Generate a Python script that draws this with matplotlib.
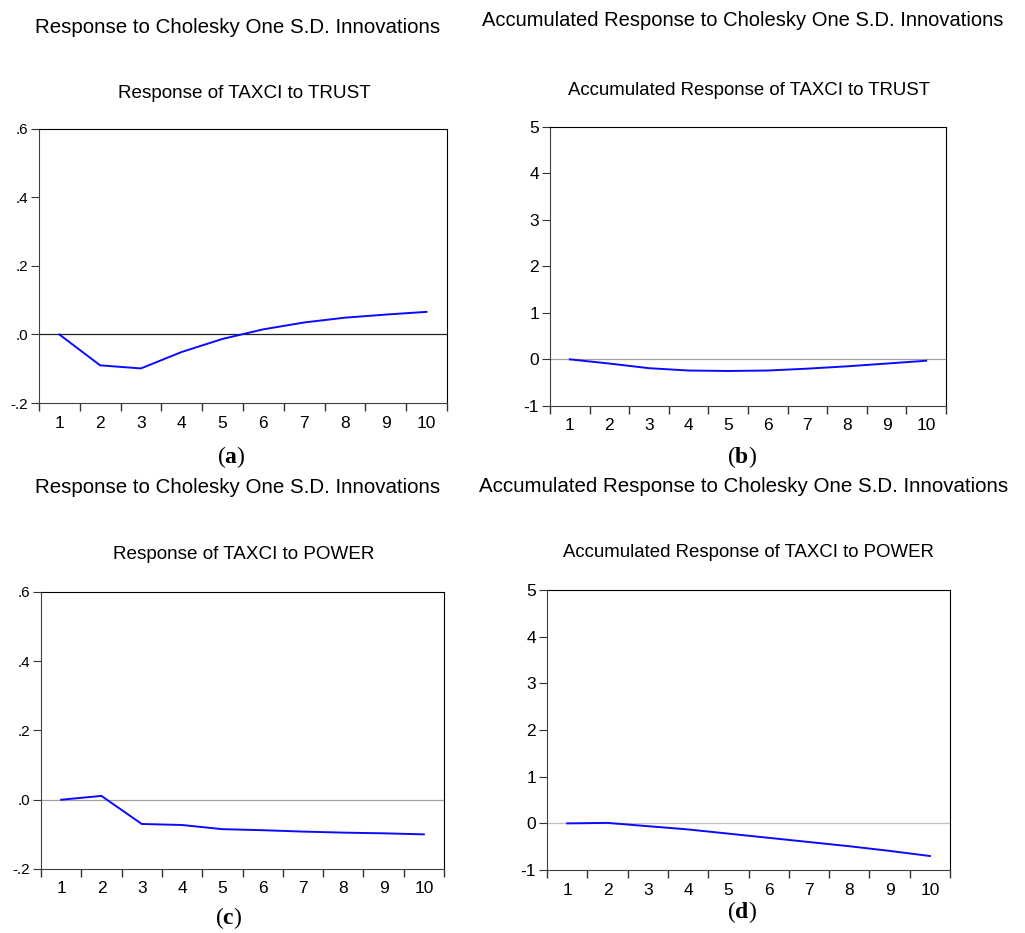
import matplotlib
matplotlib.use('Agg')
import matplotlib.pyplot as plt
from matplotlib.ticker import FixedLocator, NullFormatter, FixedFormatter

plt.rcParams['font.family'] = ['Liberation Sans', 'DejaVu Sans']
plt.rcParams['mathtext.fontset'] = 'custom'
plt.rcParams['mathtext.rm'] = 'Liberation Serif'
plt.rcParams['mathtext.bf'] = 'Liberation Serif:bold'

periods = [1, 2, 3, 4, 5, 6, 7, 8, 9, 10]

# impulse responses
resp_trust = [0.0, -0.090, -0.099, -0.051, -0.013, 0.015, 0.035, 0.049, 0.058, 0.066]
acc_trust = [0.0, -0.09, -0.19, -0.24, -0.25, -0.24, -0.20, -0.15, -0.09, -0.03]
resp_power = [0.0, 0.011, -0.070, -0.073, -0.085, -0.088, -0.092, -0.095, -0.097, -0.100]
acc_power = [0.0, 0.01, -0.06, -0.13, -0.22, -0.31, -0.40, -0.49, -0.59, -0.70]

small_ticks = [-0.2, 0.0, 0.2, 0.4, 0.6]
small_labels = ['-.2', '.0', '.2', '.4', '.6']
acc_ticks = [-1, 0, 1, 2, 3, 4, 5]
acc_labels = ['-1', '0', '1', '2', '3', '4', '5']

header_irf = 'Response to Cholesky One S.D. Innovations'
header_acc = 'Accumulated Response to Cholesky One S.D. Innovations'

fig = plt.figure(figsize=(10.25, 9.33), dpi=100)

panels = [
    # rect, values, ticks, labels, zero colour, ytick size
    ([0.038, 0.568, 0.398, 0.294], resp_trust, small_ticks, small_labels, '#202020', 11),
    ([0.5366, 0.565, 0.3863, 0.299], acc_trust, acc_ticks, acc_labels, '#a0a0a0', 12.5),
    ([0.040, 0.0686, 0.3932, 0.297], resp_power, small_ticks, small_labels, '#a0a0a0', 11),
    ([0.5337, 0.0675, 0.3932, 0.300], acc_power, acc_ticks, acc_labels, '#c0c0c0', 12.5),
]

for rect, vals, yt, yl, zc, ysz in panels:
    ax = fig.add_axes(rect)
    ax.axhline(0, color=zc, lw=0.9, zorder=1)
    ax.plot(periods, vals, color='#0a0aff', lw=1.4, zorder=2)
    ax.set_xlim(0.5, 10.5)
    ax.set_ylim(yt[0], yt[-1])
    ax.set_yticks(yt)
    ax.set_yticklabels(yl)
    ax.xaxis.set_major_locator(FixedLocator([i + 0.5 for i in range(11)]))
    ax.xaxis.set_major_formatter(NullFormatter())
    ax.xaxis.set_minor_locator(FixedLocator(periods))
    ax.xaxis.set_minor_formatter(FixedFormatter([str(p) for p in periods]))
    ax.tick_params(axis='x', which='major', direction='out', length=6, width=1, color='#333333')
    ax.tick_params(axis='x', which='minor', length=0, pad=9, labelsize=12.5)
    ax.tick_params(axis='y', direction='out', length=6, width=0.8, pad=2, labelsize=ysz, color='#333333')
    for side in ['left', 'bottom']:
        ax.spines[side].set_color('#404040')
    for side in ['top', 'right']:
        ax.spines[side].set_color('black')

# headings
fig.text(0.232, 0.971, header_irf, ha='center', va='center', fontsize=14.8)
fig.text(0.725, 0.9775, header_acc, ha='center', va='center', fontsize=14.5)
fig.text(0.238, 0.9003, 'Response of TAXCI to TRUST', ha='center', va='center', fontsize=13.6)
fig.text(0.731, 0.9025, 'Accumulated Response of TAXCI to TRUST', ha='center', va='center', fontsize=13.4)

fig.text(0.232, 0.477, header_irf, ha='center', va='center', fontsize=14.8)
fig.text(0.725, 0.479, header_acc, ha='center', va='center', fontsize=14.8)
fig.text(0.238, 0.4062, 'Response of TAXCI to POWER', ha='center', va='center', fontsize=13.6)
fig.text(0.730, 0.4073, 'Accumulated Response of TAXCI to POWER', ha='center', va='center', fontsize=13.4)

# panel letters
for x, y, letter in [(0.2254, 0.5102, 'a'), (0.7239, 0.5102, 'b'),
                     (0.2234, 0.016, 'c'), (0.7239, 0.0225, 'd')]:
    fig.text(x, y, r'$\mathrm{(}\mathbf{%s}\mathrm{)}$' % letter, ha='center', va='center', fontsize=17)

fig.savefig('out.png', dpi=100)
